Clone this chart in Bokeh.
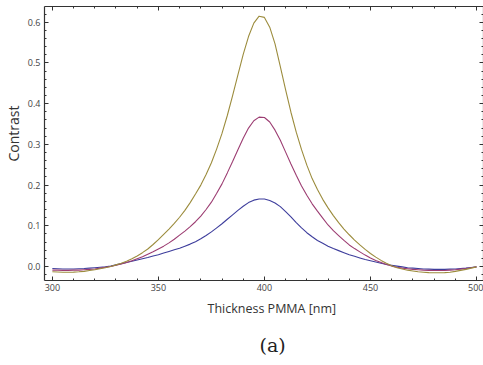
from bokeh.plotting import figure
from bokeh.models import Range1d, LinearAxis, SingleIntervalTicker, Title, PrintfTickFormatter, ColumnDataSource
from bokeh.embed import file_html
from bokeh.resources import INLINE

# PMMA thickness [nm], 2.5 nm steps from 300 to 500
thickness = [300.0, 302.5, 305.0, 307.5, 310.0, 312.5, 315.0, 317.5, 320.0, 322.5,
             325.0, 327.5, 330.0, 332.5, 335.0, 337.5, 340.0, 342.5, 345.0, 347.5,
             350.0, 352.5, 355.0, 357.5, 360.0, 362.5, 365.0, 367.5, 370.0, 372.5,
             375.0, 377.5, 380.0, 382.5, 385.0, 387.5, 390.0, 392.5, 395.0, 397.5,
             400.0, 402.5, 405.0, 407.5, 410.0, 412.5, 415.0, 417.5, 420.0, 422.5,
             425.0, 427.5, 430.0, 432.5, 435.0, 437.5, 440.0, 442.5, 445.0, 447.5,
             450.0, 452.5, 455.0, 457.5, 460.0, 462.5, 465.0, 467.5, 470.0, 472.5,
             475.0, 477.5, 480.0, 482.5, 485.0, 487.5, 490.0, 492.5, 495.0, 497.5,
             500.0]

contrast_blue = [-0.005, -0.0055, -0.006, -0.006, -0.006, -0.0055, -0.005, -0.004, -0.003, -0.002,
                 -0.001, 0.001, 0.004, 0.007, 0.010, 0.013, 0.016, 0.019, 0.022, 0.026,
                 0.029, 0.033, 0.037, 0.041, 0.045, 0.050, 0.055, 0.061, 0.068, 0.076,
                 0.085, 0.095, 0.105, 0.116, 0.127, 0.138, 0.148, 0.157, 0.163, 0.166,
                 0.166, 0.162, 0.156, 0.147, 0.135, 0.122, 0.108, 0.095, 0.083, 0.073,
                 0.064, 0.057, 0.050, 0.044, 0.039, 0.034, 0.029, 0.025, 0.021, 0.017,
                 0.014, 0.011, 0.008, 0.005, 0.003, 0.001, -0.001, -0.003, -0.004, -0.005,
                 -0.006, -0.0065, -0.007, -0.007, -0.007, -0.0065, -0.006, -0.005, -0.004, -0.0025,
                 -0.001]

contrast_magenta = [-0.009, -0.009, -0.0095, -0.0095, -0.009, -0.009, -0.008, -0.007, -0.006, -0.004,
                    -0.002, 0.000, 0.003, 0.006, 0.010, 0.014, 0.019, 0.024, 0.030, 0.036,
                    0.043, 0.050, 0.058, 0.067, 0.077, 0.087, 0.098, 0.110, 0.124, 0.140,
                    0.158, 0.180, 0.203, 0.230, 0.258, 0.287, 0.315, 0.340, 0.358, 0.367,
                    0.366, 0.355, 0.335, 0.310, 0.281, 0.252, 0.224, 0.198, 0.175, 0.154,
                    0.136, 0.119, 0.102, 0.088, 0.076, 0.064, 0.053, 0.044, 0.036, 0.028,
                    0.021, 0.015, 0.010, 0.005, 0.001, -0.002, -0.004, -0.0055, -0.007, -0.008,
                    -0.009, -0.0095, -0.010, -0.010, -0.010, -0.009, -0.008, -0.0065, -0.005, -0.003,
                    -0.001]

contrast_olive = [-0.013, -0.0135, -0.014, -0.014, -0.0138, -0.013, -0.012, -0.010, -0.008, -0.0055,
                  -0.003, 0.000, 0.004, 0.008, 0.013, 0.019, 0.026, 0.034, 0.043, 0.054,
                  0.066, 0.079, 0.092, 0.106, 0.121, 0.138, 0.157, 0.178, 0.200, 0.226,
                  0.255, 0.289, 0.327, 0.371, 0.420, 0.471, 0.521, 0.565, 0.598, 0.615,
                  0.612, 0.588, 0.547, 0.491, 0.434, 0.379, 0.330, 0.287, 0.249, 0.216,
                  0.189, 0.165, 0.144, 0.125, 0.108, 0.092, 0.078, 0.065, 0.053, 0.042,
                  0.032, 0.023, 0.015, 0.008, 0.002, -0.003, -0.006, -0.009, -0.011, -0.013,
                  -0.014, -0.015, -0.0155, -0.0155, -0.015, -0.014, -0.012, -0.0095, -0.007, -0.004,
                  -0.001]

series_colors = ["#3d3d9c", "#9c3d72", "#9c8c3d"]

x_title = "Thickness PMMA [nm]"
y_title = "Contrast"
caption = "(a)"

FONT = "Open Sans"

p = figure(width=483, height=365, output_backend="svg", toolbar_location=None,
           x_range=Range1d(296.3, 503.3), y_range=Range1d(-0.0344, 0.6388),
           min_border_left=41, min_border_right=0, min_border_top=6, min_border_bottom=85)
p.outline_line_color = None
p.xgrid.visible = False
p.ygrid.visible = False
p.background_fill_color = "white"
p.border_fill_color = "white"

src = ColumnDataSource(dict(t=thickness, b=contrast_blue, m=contrast_magenta, o=contrast_olive))
for col, c in zip(["b", "m", "o"], series_colors):
    p.line("t", col, source=src, line_color=c, line_width=1.1)

def style(ax, labels=True):
    ax.axis_line_color = "#333333"
    ax.axis_line_width = 1.2
    ax.major_tick_line_color = "#333333"
    ax.minor_tick_line_color = "#333333"
    ax.major_tick_in = 4
    ax.major_tick_out = 0
    ax.minor_tick_in = 2
    ax.minor_tick_out = 0
    ax.major_label_text_font = FONT
    ax.major_label_text_font_size = "9px"
    ax.major_label_text_color = "#444444"
    if not labels:
        ax.major_label_text_font_size = "0px"
        ax.major_label_text_alpha = 0

p.xaxis.ticker = SingleIntervalTicker(interval=50, num_minor_ticks=5)
p.yaxis.ticker = SingleIntervalTicker(interval=0.1, num_minor_ticks=5)
p.yaxis.formatter = PrintfTickFormatter(format="%.1f")
style(p.xaxis[0])
style(p.yaxis[0])
p.xaxis.major_label_standoff = 3
p.yaxis.major_label_standoff = 4

top = LinearAxis(ticker=SingleIntervalTicker(interval=50, num_minor_ticks=5))
style(top, labels=False)
top.major_label_standoff = 0
p.add_layout(top, "above")
right = LinearAxis(ticker=SingleIntervalTicker(interval=0.1, num_minor_ticks=5))
style(right, labels=False)
right.major_label_standoff = 0
p.add_layout(right, "right")

p.add_layout(Title(text=x_title, align="left", offset=163, standoff=9, text_font=FONT,
                   text_font_size="12.5px", text_font_style="normal", text_color="#333333"), "below")
p.add_layout(Title(text=caption, align="left", offset=215, standoff=20, text_font="DejaVu Serif",
                   text_font_size="19px", text_font_style="normal", text_color="#222222"), "below")
p.add_layout(Title(text=y_title, align="left", offset=119, standoff=3, text_font=FONT,
                   text_font_size="14px", text_font_style="normal", text_color="#333333"), "left")

open("out.html", "w").write(file_html(p, INLINE))
